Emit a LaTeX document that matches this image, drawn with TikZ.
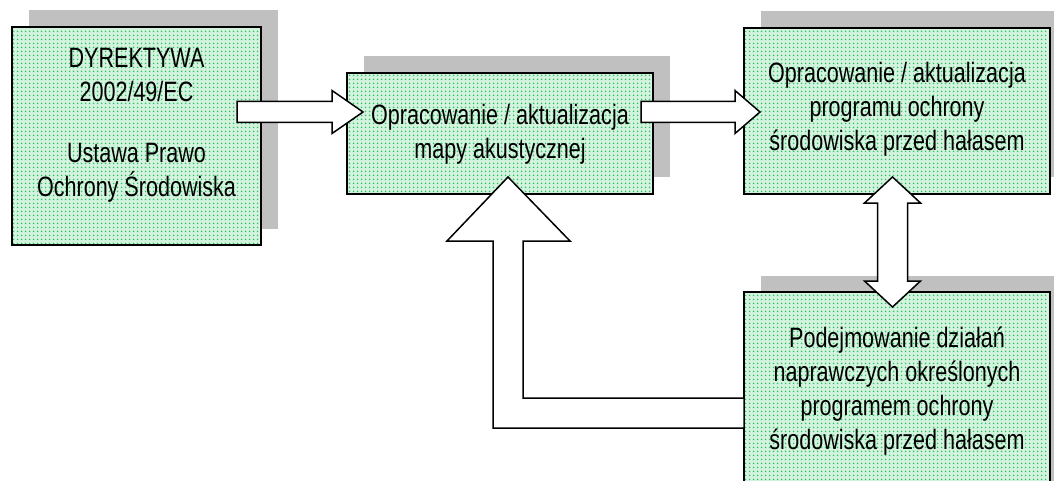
\documentclass[tikz,border=0pt]{standalone}
\usepackage{fontspec}
\setmainfont{Liberation Sans}[FakeStretch=0.77]
\usetikzlibrary{shadows,patterns.meta}
\definecolor{shadowgray}{HTML}{C0C0C0}
\definecolor{mintbg}{HTML}{D4F3DE}
\definecolor{dotgreen}{HTML}{2EC466}
\tikzdeclarepattern{
  name=greendots,
  type=colored,
  bottom left={(0pt,0pt)},
  top right={(4pt,4pt)},
  tile size={(4pt,4pt)},
  code={
    \fill[dotgreen] (2pt,2pt) circle (1.1pt);
  }
}
\begin{document}
\begin{tikzpicture}[x=1pt,y=-1pt,
  box/.style={draw=black, line width=2pt, fill=mintbg, postaction={pattern=greendots},
    inner sep=0pt, outer sep=0pt,
    drop shadow={shadow xshift=16.5pt, shadow yshift=16.5pt, fill=shadowgray, opacity=1}},
  txt/.style={align=center, font=\fontsize{28}{34}\selectfont, inner sep=0pt},
  blockarrow/.style={draw=black, fill=white, line width=1.5pt, line join=miter}]
\clip (0,0) rectangle (1054,481);
% boxes
\node[box, minimum width=249pt, minimum height=218pt] (b1) at (136.5,136) {};
\node[box, minimum width=306pt, minimum height=121pt] (b2) at (500,133.5) {};
\node[box, minimum width=306pt, minimum height=166pt] (b3) at (897,111) {};
\node[box, minimum width=306pt, minimum height=218pt] (b4) at (897,401) {};
% redraw outlines above the dot pattern
\foreach \b in {b1,b2,b3,b4} \draw[line width=2pt] (\b.south west) rectangle (\b.north east);
% block arrows
\draw[blockarrow] (237,101.5) -- (332,101.5) -- (332,90.5) -- (363,112) -- (332,133.5) -- (332,122.5) -- (237,122.5) -- cycle;
\draw[blockarrow] (641,101.5) -- (735,101.5) -- (735,90.5) -- (760,112) -- (735,133.5) -- (735,122.5) -- (641,122.5) -- cycle;
\draw[blockarrow] (b4.west |- 0,398) -- (523,398) -- (523,241) -- (570,241) -- (508,177) -- (447,241) -- (493,241) -- (493,428) -- (b4.west |- 0,428) -- cycle;
\draw[blockarrow] (892.5,177) -- (920.5,203) -- (907.5,203) -- (907.5,281) -- (920.5,281) -- (892.5,307) -- (864.5,281) -- (877.5,281) -- (877.5,203) -- (864.5,203) -- cycle;
% texts
\node[txt] (t1) at (136.5,125.5) {DYREKTYWA\\2002/49/EC\\[27pt]Ustawa Prawo\\Ochrony Środowiska};
\node[txt] (t2) at (500,134) {Opracowanie / aktualizacja\\mapy akustycznej};
\node[txt] (t3) at (897,109) {Opracowanie / aktualizacja\\programu ochrony\\środowiska przed hałasem};
\node[txt] (t4) at (897,391) {Podejmowanie działań\\naprawczych określonych\\programem ochrony\\środowiska przed hałasem};
\end{tikzpicture}
\end{document}
